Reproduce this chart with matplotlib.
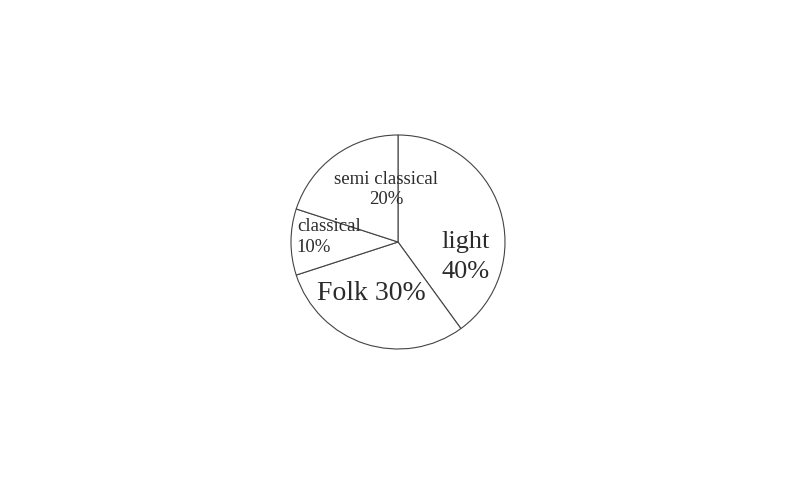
import matplotlib.pyplot as plt

# music listened to (percent)
genres = ["light", "Folk", "classical", "semi classical"]
shares = [40, 30, 10, 20]

fig = plt.figure(figsize=(7.86, 4.85), dpi=100)
plt.rcParams['font.family'] = ['Liberation Serif', 'DejaVu Serif']

# pie centre at (398, 243) px, radius 107 px
cx, cy, R = 398, 243, 107
lim = 1.15
w = 2 * lim * R / 786
h = 2 * lim * R / 485
ax = fig.add_axes([cx / 786 - w / 2, (485 - cy) / 485 - h / 2, w, h])

ax.pie(shares, startangle=90, counterclock=False, colors=['white'] * 4,
       wedgeprops=dict(edgecolor='#444444', linewidth=0.8))
ax.set_xlim(-lim, lim)
ax.set_ylim(-lim, lim)
ax.set_aspect('equal')
ax.axis('off')

col = '#2b2b2b'
ax.text(0.635, -0.13, "%s\n%d%%" % (genres[0], shares[0]), ha='center', va='center',
        fontsize=19, color=col, linespacing=1.45)
ax.text(-0.25, -0.47, "%s %d%%" % (genres[1], shares[1]), ha='center', va='center',
        fontsize=20, color=col)
ax.text(-0.945, 0.06, "%s\n%d%%" % (genres[2], shares[2]), ha='left', va='center',
        fontsize=13.5, color=col, linespacing=1.3)
ax.text(-0.11, 0.50, "%s\n%d%%" % (genres[3], shares[3]), ha='center', va='center',
        fontsize=13.5, color=col, linespacing=1.3)

plt.savefig('out.png', dpi=100)
